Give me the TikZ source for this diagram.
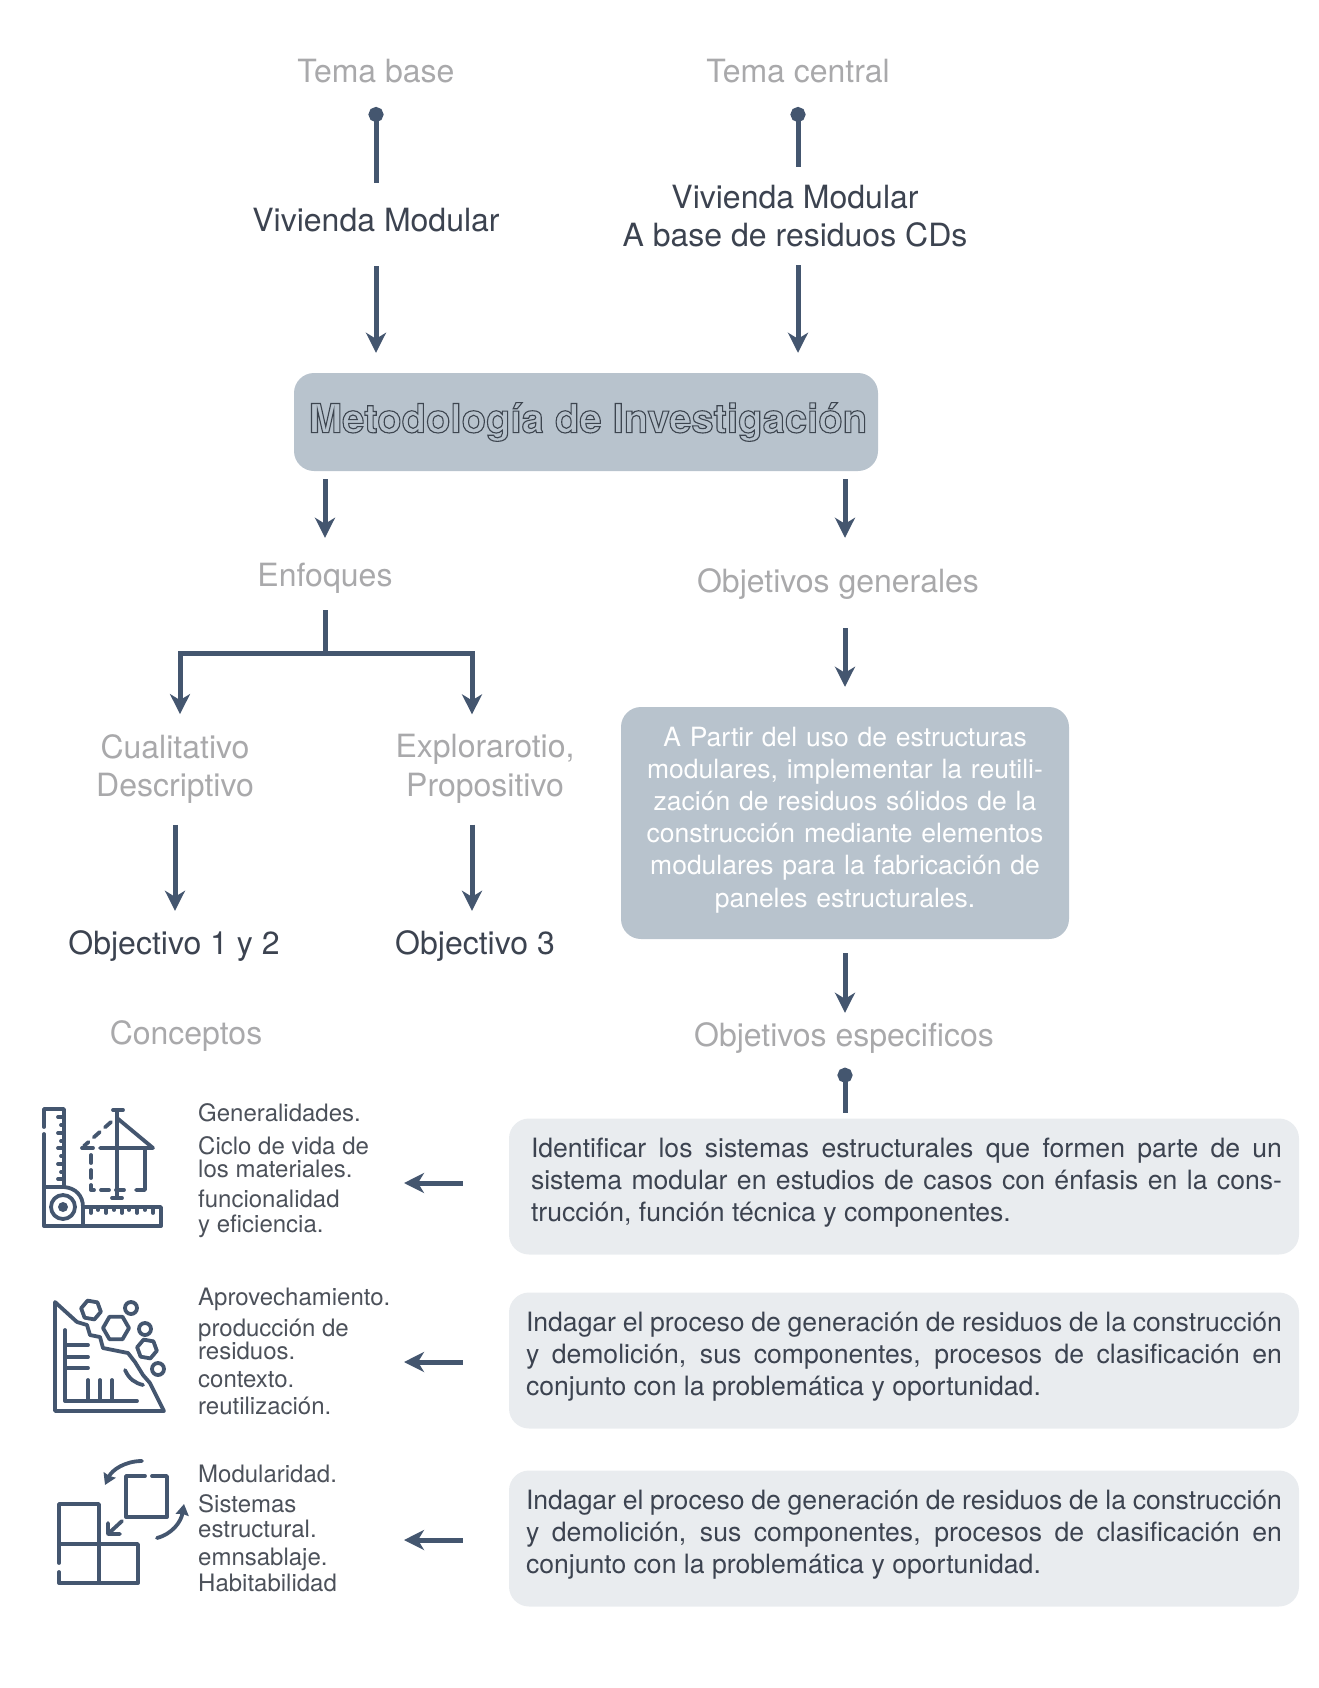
\documentclass[tikz,border=0pt]{standalone}
\usepackage{fontspec}
\setmainfont{TeX Gyre Heros}
\usetikzlibrary{arrows.meta}
\definecolor{slate}{HTML}{44566F}
\definecolor{soft}{HTML}{A9A9AB}
\definecolor{ink}{HTML}{3C4350}
\definecolor{note}{HTML}{4C515A}
\definecolor{midbox}{HTML}{B8C3CD}
\definecolor{lowbox}{HTML}{E9ECEF}
\begin{document}
\begin{tikzpicture}[x=1pt,y=-1pt,
	head/.style={font=\fontsize{32}{38.5}\selectfont,text=soft,align=center,inner sep=0pt},
	main/.style={font=\fontsize{32}{38.5}\selectfont,text=ink,align=center,inner sep=0pt},
	one/.style={text height=23pt,text depth=7pt},
	conc/.style={font=\fontsize{24}{28}\selectfont,text=note,anchor=west,inner sep=0pt,text height=17pt,text depth=5pt,yshift=-2pt},
	lowb/.style={fill=lowbox,rounded corners=20pt,minimum width=790pt,minimum height=136pt,inner sep=0pt,text width=756pt,align=justify,font=\fontsize{26.6}{32.2}\selectfont,text=ink},
	conn/.style={draw=slate,line width=5pt},
	arr/.style={conn,-{Stealth[length=20pt,width=20pt,inset=6pt]}},
	pin/.style={conn,{Circle[length=15pt]}-},
	back/.style={conn,-{Stealth[length=20pt,width=20pt,inset=6pt]}},
	icon/.style={draw=slate,line width=3.8pt,line cap=round,line join=round}]
	\useasboundingbox (0,0) rectangle (1318,1688);
	\node[head,one] (tbase) at (376,75) {Tema base};
	\node[head,one] (tcent) at (798,75) {Tema central};
	\node[main,one] (viv) at (376,224) {Vivienda Modular};
	\node[main] (vivcd) at (795,216) {Vivienda Modular\\A base de residuos CDs};
	\node[fill=midbox,rounded corners=20pt,minimum width=584pt,minimum height=98pt,inner sep=0pt,font=\fontsize{40}{44}\bfseries\selectfont] (metod) at (586,422) {\hspace*{4pt}\special{pdf:code 1 Tr 1.1 w 0.24 0.27 0.31 RG}Metodología de Investigación\special{pdf:code 0 Tr 0 0 0 RG}};
	\node[head,one] (enf) at (325,578) {Enfoques};
	\node[head,one] (ogen) at (838,584) {Objetivos generales};
	\node[head] (cual) at (175,769) {Cualitativo\\Descriptivo};
	\node[head] (expl) at (485,769) {Explorarotio,\\Propositivo};
	\node[main,one] (ob12) at (174,946) {Objectivo 1 y 2};
	\node[main,one] (ob3) at (475,946) {Objectivo 3};
	\node[fill=midbox,rounded corners=20pt,minimum width=448pt,minimum height=232pt,inner sep=0pt,text width=448pt,text=white,align=center,font=\fontsize{26.5}{32.2}\selectfont] (part) at (845,823) {A Partir del uso de estructuras\\modulares, implementar la reutili-\\zación de residuos sólidos de la\\construcción mediante elementos\\modulares para la fabricación de\\paneles estructurales.\par\vskip 6.5pt\hrule height 0pt};
	\node[head,one] (conce) at (186,1036) {Conceptos};
	\node[head,one] (oesp) at (844,1038) {Objetivos especificos};
	\node[lowb] (sp1) at (904,1186.5) {\hspace*{5pt}\parbox{751pt}{Identificar los sistemas estructurales que formen parte de un\linebreak sistema modular en estudios de casos con énfasis en la cons-\linebreak trucción, función técnica y componentes.}\par\vskip 7.5pt\hrule height 0pt};
	\node[lowb] (sp2) at (904,1360.5) {Indagar el proceso de generación de residuos de la construcción\linebreak y demolición, sus componentes, procesos de clasificación en\linebreak conjunto con la problemática y oportunidad.\par\vskip 7.5pt\hrule height 0pt};
	\node[lowb] (sp3) at (904,1538.5) {Indagar el proceso de generación de residuos de la construcción\linebreak y demolición, sus componentes, procesos de clasificación en\linebreak conjunto con la problemática y oportunidad.\par\vskip 7.5pt\hrule height 0pt};
	\foreach \y/\t in {1113/Generalidades.,1146/Ciclo de vida de,1169/los materiales.,1199/funcionalidad,1224/y eficiencia.,1297/Aprovechamiento.,1328/producción de,1351/residuos.,1379/contexto.,1406/reutilización.,1474/Modularidad.,1504/Sistemas,1529/estructural.,1557/emnsablaje.,1583/Habitabilidad}
		\node[conc] (c\y) at (198,\y) {\t};
	\coordinate (brk) at (325,653);
	\coordinate (brkl) at (180,653);
	\coordinate (brkr) at (472,653);
	\draw[pin] (tbase) ++(0,32) -- ++(0,76);
	\draw[pin] (tcent) ++(0,32) -- ++(0,60);
	\draw[arr,shorten <=27pt,shorten >=20pt] (viv.south) -- (viv.south |- metod.north);
	\draw[arr,shorten <=18pt,shorten >=20pt] (vivcd.south -| tcent) -- (tcent |- metod.north);
	\draw[arr,shorten <=8pt,shorten >=25pt] (enf |- metod.south) -- (enf.north);
	\draw[arr,shorten <=8pt,shorten >=31pt] (part |- metod.south) -- (part |- ogen.north);
	\draw[conn,shorten <=17pt] (enf.south) -- (brk);
	\draw[conn,{Stealth[length=20pt,width=20pt,inset=6pt]}-{Stealth[length=20pt,width=20pt,inset=6pt]},shorten <=20pt,shorten >=20pt] (brkl |- cual.north) -- (brkl) -- (brkr) -- (brkr |- expl.north);
	\draw[arr,shorten <=21pt,shorten >=20pt] (cual.south) -- (cual.south |- ob12.north);
	\draw[arr,shorten <=21pt,shorten >=20pt] (brkr |- expl.south) -- (brkr |- ob3.north);
	\draw[arr,shorten <=14pt,shorten >=10pt] (part.south -| part) -- (part |- oesp.north);
	\draw[arr,shorten <=29pt,shorten >=20pt] (part |- ogen.south) -- (part |- part.north);
	\draw[pin,shorten <=14.5pt,shorten >=5pt] (oesp.south -| part) -- (part |- sp1.north);
	\foreach \n/\y in {1/1183,2/1362,3/1540} {
		\coordinate (e\n) at (404,\y);
		\draw[back,shorten <=46pt] (e\n -| sp\n.west) -- (e\n);
	}
	\draw[icon] (44,1127) -- (44,1109) -- (64,1109) -- (64,1187);
	\draw[icon] (44,1134) -- (44,1226) -- (161,1226) -- (161,1207) -- (83,1207);
	\draw[icon] (44,1187) -- (64,1187) .. controls (76,1188) and (83,1196) .. (83,1207) -- (83,1226);
	\draw[icon] (63,1207) circle[radius=12];
	\fill[slate] (63,1207) circle[radius=5];
	\foreach \y/\l in {1117/6,1125/3,1133/6,1141/3,1148/6,1156/3,1164/6,1172/3,1179/6}
		\draw[icon] (64,\y) -- ++(-\l,0);
	\foreach \x/\l in {91/6,98/3,106/6,114/3,122/6,129/3,137/6,145/3,153/6}
		\draw[icon] (\x,1207) -- ++(0,\l);
	\draw[icon] (113,1110) -- (123,1110) (117,1110) -- (117,1198) (112,1198) -- (122,1198);
	\draw[icon] (117,1118) -- (153,1148) -- (100,1148) (145,1148) -- (145,1190) -- (136,1190);
	\draw[icon,dash pattern=on 8pt off 7pt] (111,1122) -- (84,1146);
	\draw[icon] (82,1148) -- (93,1148);
	\draw[icon,dash pattern=on 8pt off 7pt] (91,1155) -- (91,1190) -- (130,1190);
	\draw[icon] (77,1322) -- (55,1302) -- (55,1411) -- (164,1411) -- (150,1383) -- (143,1375) -- (135,1362) -- (128,1353) -- (103,1348) -- (100,1337) -- (90,1335) -- (87,1325) -- cycle;
	\draw[icon] (65,1330) -- (65,1401) -- (137,1401) (65,1345) -- (88,1345) (65,1357) -- (88,1357) (65,1368) -- (88,1368) (88,1380) -- (88,1401) (100,1380) -- (100,1401) (112,1380) -- (112,1401);
	\draw[icon] (125,1370) .. controls (129,1379) and (135,1383) .. (143,1385);
	\foreach \cx/\cy/\r/\a in {91/1310/10/10,116/1328/13/0,147/1349/10/10}
		\draw[icon] (\cx,\cy) +(\a:\r) -- +(\a+60:\r) -- +(\a+120:\r) -- +(\a+180:\r) -- +(\a+240:\r) -- +(\a+300:\r) -- cycle;
	\foreach \cx/\cy in {131/1308,145/1329,158/1369}
		\draw[icon] (\cx,\cy) circle[radius=6];
	\draw[icon] (59,1563) -- (59,1504) -- (99,1504) -- (99,1583) (59,1544) -- (138,1544) -- (138,1583) -- (59,1583) -- (59,1572);
	\draw[icon] (152,1476) -- (167,1476) -- (167,1517) -- (126,1517) -- (126,1476) -- (145,1476);
	\draw[icon] (122,1521) -- (108,1534) (108,1523) -- (108,1534) -- (120,1534);
	\draw[icon,-{Stealth[length=11pt,width=13pt,inset=1pt]}] (142,1461) .. controls (125,1461) and (112,1470) .. (105,1485);
	\draw[icon,-{Stealth[length=11pt,width=13pt,inset=1pt]}] (157,1538) .. controls (172,1534) and (181,1522) .. (184,1504);
\end{tikzpicture}
\end{document}
